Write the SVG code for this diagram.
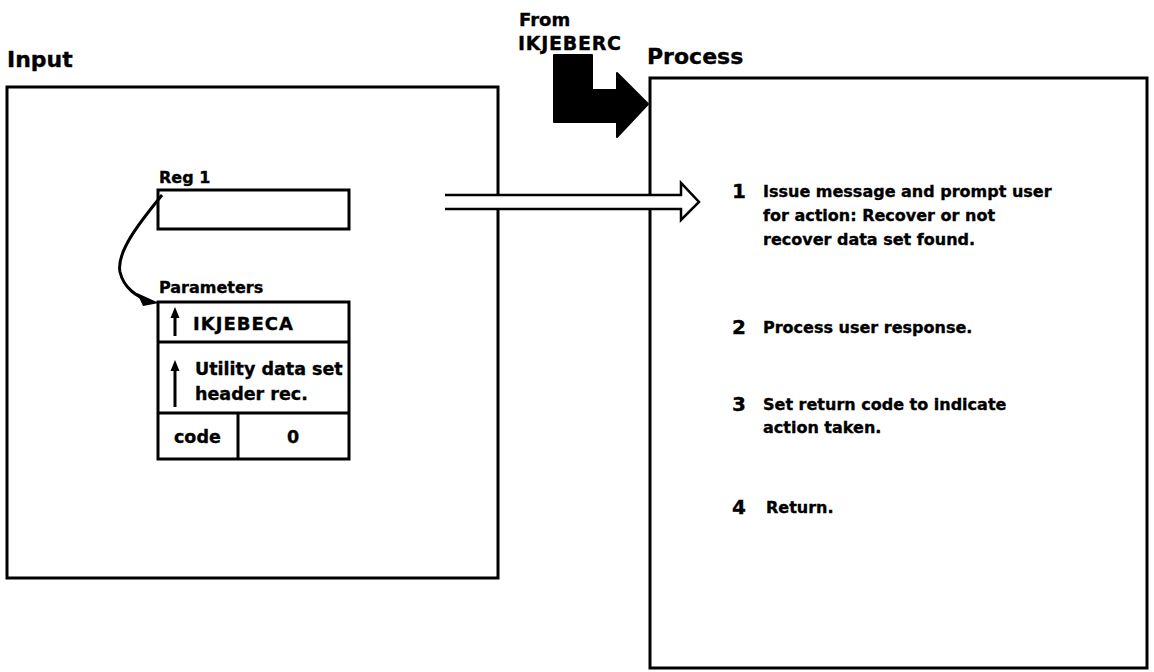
<svg xmlns="http://www.w3.org/2000/svg" width="1154" height="672" viewBox="0 0 1154 672">
<style>
text{font-family:"DejaVu Sans","Liberation Sans",sans-serif;font-weight:bold;fill:#000;stroke:#000;stroke-width:0.35}
.title{font-size:22px}
.lbl{font-size:16px}
.hdr{font-size:18px}
.cell{font-size:17.5px}
.step{font-size:16px}
.num{font-size:20px}
.box{fill:#fff;stroke:#000;stroke-width:3}
.ln{fill:none;stroke:#000;stroke-width:3}
</style>
<rect width="1154" height="672" fill="#fff"/>
<g id="input">
<rect class="box" x="7" y="87" width="491" height="491"/>
<text class="title" x="7" y="67">Input</text>
</g>
<g id="process">
<rect class="box" x="650" y="78" width="497" height="590"/>
<text class="title" x="647" y="64">Process</text>
<g id="step1">
<text class="num" x="732" y="198">1</text>
<text class="step" x="763" y="197">Issue message and prompt user</text>
<text class="step" x="763" y="221">for action:  Recover or not</text>
<text class="step" x="763" y="245">recover data set found.</text>
</g>
<g id="step2">
<text class="num" x="732" y="334">2</text>
<text class="step" x="763" y="333">Process user response.</text>
</g>
<g id="step3">
<text class="num" x="732" y="411">3</text>
<text class="step" x="763" y="410">Set return code to indicate</text>
<text class="step" x="763" y="433">action taken.</text>
</g>
<g id="step4">
<text class="num" x="732" y="514">4</text>
<text class="step" x="766" y="513">Return.</text>
</g>
</g>
<g id="from">
<text class="hdr" x="519" y="26">From</text>
<text class="hdr" x="518" y="50" style="font-size:19px" textLength="103">IKJEBERC</text>
</g>
<g id="reg1">
<text class="lbl" x="159" y="183">Reg 1</text>
<rect class="box" x="158" y="190" width="191" height="39"/>
</g>
<g id="parameters">
<text class="lbl" x="159" y="293">Parameters</text>
<rect class="box" x="158" y="302" width="191" height="157"/>
<line class="ln" x1="158" y1="342" x2="349" y2="342"/>
<line class="ln" x1="158" y1="413" x2="349" y2="413"/>
<line class="ln" x1="238" y1="413" x2="238" y2="459"/>
<text class="cell" x="193" y="330" style="font-size:18px" textLength="100">IKJEBECA</text>
<text class="cell" x="195" y="375">Utility data set</text>
<text class="cell" x="195" y="400">header rec.</text>
<text class="cell" x="174" y="443">code</text>
<text class="cell" x="293" y="443" text-anchor="middle">0</text>
<line class="ln" x1="175" y1="315" x2="175" y2="336"/>
<polygon points="175,307 170.5,318 179.5,318" fill="#000"/>
<line class="ln" x1="175" y1="368" x2="175" y2="407"/>
<polygon points="175,360 170.5,371 179.5,371" fill="#000"/>
</g>
<g id="connectors">
<path class="ln" d="M162,195 C140,222 116,252 120,272 C124,289 138,297 148,300"/>
<polygon points="159,303 137,293 143,306" fill="#000"/>
<polygon points="445,195 681,195 681,183 699,202 681,220 681,209 445,209" fill="#fff"/>
<path fill="none" stroke="#000" stroke-width="2.5" stroke-linejoin="miter" d="M445,195 L681,195 L681,183 L699,202 L681,220 L681,209 L445,209"/>
<polygon points="554,55 592,55 592,90 617,90 617,73 648,104 617,137 617,122 554,122" fill="#000" stroke="#000" stroke-width="2" stroke-linejoin="round"/>
</g>
</svg>
